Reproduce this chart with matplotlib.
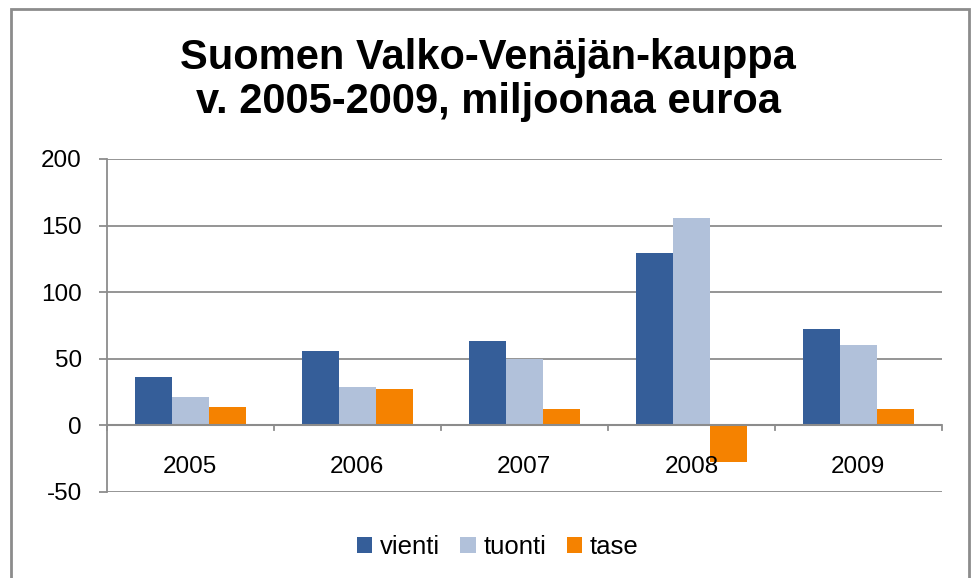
import numpy as np
import matplotlib.pyplot as plt
from matplotlib.patches import Rectangle

plt.rcParams['font.family'] = ['Liberation Sans', 'DejaVu Sans']
plt.rcParams['axes.unicode_minus'] = False

years = ['2005', '2006', '2007', '2008', '2009']
vienti = [36.3, 55.8, 63.3, 129.3, 72.3]
tuonti = [21.3, 28.8, 49.8, 156.0, 60.3]
tase = [13.8, 27.3, 12.5, -27.7, 12.5]

series = ['vienti', 'tuonti', 'tase']
colors = ['#355E99', '#B1C1DA', '#F58200']

fig = plt.figure(figsize=(9.71, 5.78), dpi=100)
ax = fig.add_axes([0.110, 0.149, 0.860, 0.576])

x = np.arange(len(years))
w = 1 / 4.5
for i, (vals, name, c) in enumerate(zip([vienti, tuonti, tase], series, colors)):
    ax.bar(x + (i - 1) * w, vals, w, color=c, label=name, zorder=3)

ax.set_xlim(-0.5, len(years) - 0.5)
ax.set_ylim(-50, 200)
ax.set_yticks(np.arange(-50, 201, 50))
ax.grid(axis='y', color='#8C8C8C', linewidth=1.3, zorder=0)

for s in ['top', 'right', 'bottom']:
    ax.spines[s].set_visible(False)
ax.spines['left'].set_color('#8C8C8C')
ax.spines['left'].set_linewidth(1.3)
ax.tick_params(axis='y', length=6, width=1.3, color='#8C8C8C', labelsize=17.5, pad=12)

# category axis at zero with tick marks between groups
ax.axhline(0, color='#8C8C8C', linewidth=1.5, zorder=4)
ax.set_xticks([])
for b in np.arange(-0.5, len(years), 1.0):
    ax.plot([b, b], [0, -3.5], color='#8C8C8C', linewidth=1.3, zorder=4, clip_on=False)
for xi, yr in zip(x, years):
    ax.text(xi, -31, yr, ha='center', va='center', fontsize=17.5)

fig.text(0.503, 0.862, 'Suomen Valko-Venäjän-kauppa\nv. 2005-2009, miljoonaa euroa',
         ha='center', va='center', fontsize=30, fontweight='bold', linespacing=1.13)

ax.legend(loc='center', bbox_to_anchor=(0.468, -0.165), ncol=3, frameon=False,
          fontsize=18.5, handlelength=0.6, handleheight=0.6, handletextpad=0.3,
          columnspacing=0.8)

fig.patches.append(Rectangle((11 / 971, -0.05), 958 / 971, 1.05 - 9 / 578,
                             transform=fig.transFigure, fill=False,
                             edgecolor='#8C8C8C', linewidth=2))

fig.savefig('out.png', dpi=100)
